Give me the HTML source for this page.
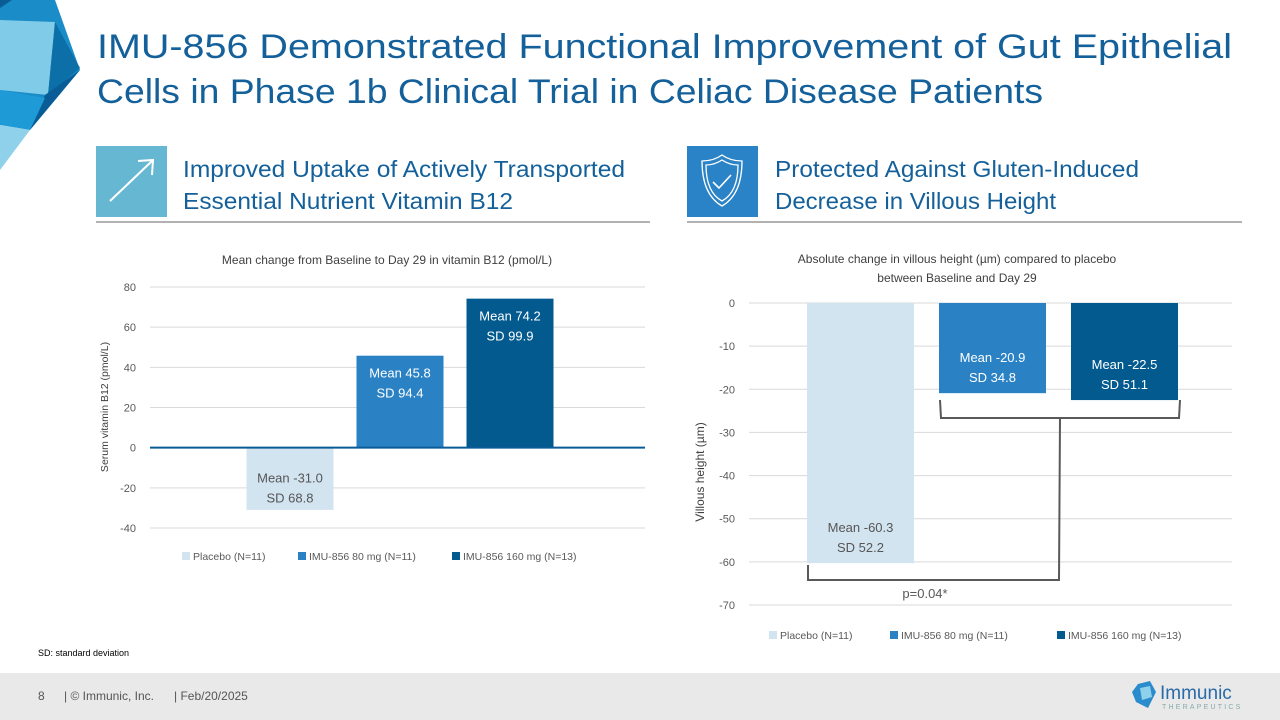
<!DOCTYPE html>
<html><head><meta charset="utf-8"><style>
html,body{margin:0;padding:0;background:#fff;}
svg{display:block;font-family:"Liberation Sans",sans-serif;}
</style></head><body>
<svg id="page" width="1280" height="720" viewBox="0 0 1280 720">
  <g>
    <polygon points="0,0 55,0 80,70 30,130 0,120" fill="#1a8cc8"/>
    <polygon points="0,20 55,22 48,95 0,90" fill="#7fcbe8"/>
    <polygon points="55,22 80,68 48,95" fill="#0d6fa8"/>
    <polygon points="45,95 80,70 30,130" fill="#0a5c96"/>
    <polygon points="0,90 45,98 30,130 0,125" fill="#1e9ad6"/>
    <polygon points="0,125 30,130 0,170" fill="#8fd0ea"/>
    <polygon points="0,0 12,0 0,8" fill="#0a5c96"/>
  </g>
  <text x="97" y="58" font-size="34" fill="#14609a" textLength="1135" lengthAdjust="spacingAndGlyphs">IMU-856 Demonstrated Functional Improvement of Gut Epithelial</text>
  <text x="97" y="103" font-size="34" fill="#14609a" textLength="946" lengthAdjust="spacingAndGlyphs">Cells in Phase 1b Clinical Trial in Celiac Disease Patients</text>

  <rect x="96" y="146" width="71" height="71" fill="#66b8d2"/>
  <g stroke="#fff" stroke-width="2" fill="none">
    <line x1="110" y1="201" x2="152" y2="161"/><polyline points="138,161 153,160 152,175"/>
  </g>
  <text x="183" y="177" font-size="23" fill="#14609a" textLength="442" lengthAdjust="spacingAndGlyphs">Improved Uptake of Actively Transported</text>
  <text x="183" y="209" font-size="23" fill="#14609a" textLength="330" lengthAdjust="spacingAndGlyphs">Essential Nutrient Vitamin B12</text>
  <line x1="96" y1="222" x2="650" y2="222" stroke="#666" stroke-width="1"/>

  <rect x="687" y="146" width="71" height="71" fill="#2a83c6"/>
  <g stroke="#fff" stroke-width="1.3" fill="none">
    <path d="M722,155 C715,160 708,161 702,161 C702,182 708,198 722,206 C736,198 742,182 742,161 C736,161 729,160 722,155 Z"/>
    <path d="M722,160 C716,164 711,165 706,165 C706,182 711,195 722,201 C733,195 738,182 738,165 C733,165 728,164 722,160 Z"/>
    <polyline points="713,182 719,188 731,175" stroke-width="1.6"/>
  </g>
  <text x="775" y="177" font-size="23" fill="#14609a" textLength="364" lengthAdjust="spacingAndGlyphs">Protected Against Gluten-Induced</text>
  <text x="775" y="209" font-size="23" fill="#14609a" textLength="281" lengthAdjust="spacingAndGlyphs">Decrease in Villous Height</text>
  <line x1="687" y1="222" x2="1242" y2="222" stroke="#666" stroke-width="1"/>

  <g id="chartL"></g>
  <g id="chartR"></g>

  <text x="38" y="656" font-size="9" fill="#000">SD: standard deviation</text>

  <rect x="0" y="673" width="1280" height="47" fill="#e8e9e8"/>
  <text x="38" y="700" font-size="12" fill="#555">8</text>
  <text x="64" y="700" font-size="12" fill="#555">|  © Immunic, Inc.</text>
  <text x="174" y="700" font-size="12" fill="#555">| Feb/20/2025</text>
  <g>
    <polygon points="1138,684 1150,681 1156,692 1148,708 1136,702 1132,692" fill="#2a8ccc"/>
    <polygon points="1140,688 1150,686 1152,697 1142,700" fill="#8fd0ea"/>
    <text x="1160" y="699" font-size="19" fill="#2a6aa8">Immunic</text>
    <text x="1162" y="709" font-size="7" fill="#8aa" letter-spacing="2.2">THERAPEUTICS</text>
  </g>
</svg>
<script>
const NS = "http://www.w3.org/2000/svg";
const b12Groups = ["Placebo (N=11)", "IMU-856 80 mg (N=11)", "IMU-856 160 mg (N=13)"];
const b12Means = [-31.0, 45.8, 74.2];
const b12SDs = [68.8, 94.4, 99.9];
const b12Ticks = [80, 60, 40, 20, 0, -20, -40];
const vhGroups = ["Placebo (N=11)", "IMU-856 80 mg (N=11)", "IMU-856 160 mg (N=13)"];
const vhMeans = [-60.3, -20.9, -22.5];
const vhSDs = [52.2, 34.8, 51.1];
const vhTicks = [0, -10, -20, -30, -40, -50, -60, -70];
const colors = ["#d3e4f1", "#2a82c5", "#035a8f"];
const labelColors = ["#555", "#fff", "#fff"];

function mk(parent, tag, attrs, txt){
  const el = document.createElementNS(NS, tag);
  for (const k in attrs) el.setAttribute(k, attrs[k]);
  if (txt !== undefined) el.textContent = txt;
  parent.appendChild(el);
  return el;
}

function drawChart(g, cfg){
  const y = v => cfg.y0 + (cfg.vMax - v) * (cfg.y1 - cfg.y0) / (cfg.vMax - cfg.vMin);
  cfg.ticks.forEach(t => {
    const gl = mk(g, "line", {x1:cfg.x0, x2:cfg.x1, y1:y(t), y2:y(t), stroke:"#d9d9d9", "stroke-width":1});
    
    
    const tl = mk(g, "text", {x:cfg.x0-14, y:y(t)+4, "font-size":11, fill:"#595959", "text-anchor":"end"}, String(t));
    
    
  });
  const n = cfg.means.length;
  const mid = cfg.mid;
  cfg.means.forEach((m, i) => {
    const cx = mid + (i - (n-1)/2) * (cfg.bw + cfg.gap);
    const top = Math.min(y(0), y(m)), h = Math.abs(y(m) - y(0));
    const r = mk(g, "rect", {x:cx-cfg.bw/2, y:top, width:cfg.bw, height:h, fill:colors[i]});
    
    
    let ly = cfg.labelPos(i, m, y);
    const t1 = mk(g, "text", {x:cx, y:ly, "font-size":13, fill:labelColors[i], "text-anchor":"middle"}, "Mean " + m.toFixed(1));
    
    
    const t2 = mk(g, "text", {x:cx, y:ly+20, "font-size":13, fill:labelColors[i], "text-anchor":"middle"}, "SD " + cfg.sds[i].toFixed(1));
    
    
  });
  if (cfg.zeroLine){
    const z = mk(g, "line", {x1:cfg.x0, x2:cfg.x1, y1:y(0), y2:y(0), stroke:"#0a5c96", "stroke-width":2});
    
    
  }
  let lx = cfg.legendX;
  cfg.groups.forEach((name, i) => {
    const sw = mk(g, "rect", {x:lx, y:cfg.legendY-8, width:8, height:8, fill:colors[i]});
    
    
    const lt = mk(g, "text", {x:lx+11, y:cfg.legendY, "font-size":10.5, fill:"#595959"}, name);
    
    
    lx += cfg.legendSteps[i];
  });
  return y;
}

const gL = document.getElementById("chartL");
const tL = mk(gL, "text", {x:387, y:264, "font-size":12, fill:"#404040", "text-anchor":"middle"}, "Mean change from Baseline to Day 29 in vitamin B12 (pmol/L)");


const axL = mk(gL, "text", {x:0, y:0, "font-size":10.5, fill:"#404040", "text-anchor":"middle", transform:"translate(108,407) rotate(-90)"}, "Serum vitamin B12 (pmol/L)");


drawChart(gL, {x0:150, x1:645, mid:400, y0:287, y1:528, vMax:80, vMin:-40, ticks:b12Ticks,
  means:b12Means, sds:b12SDs, groups:b12Groups, bw:87, gap:23, zeroLine:true,
  labelPos:(i,m,y)=> m<0 ? y(0)+35 : y(m)+22,
  legendX:182, legendY:560, legendSteps:[116, 154, 0]});

const gR = document.getElementById("chartR");
const tR1 = mk(gR, "text", {x:957, y:263, "font-size":12, fill:"#404040", "text-anchor":"middle"}, "Absolute change in villous height (µm) compared to placebo");


const tR2 = mk(gR, "text", {x:957, y:282, "font-size":12, fill:"#404040", "text-anchor":"middle"}, "between Baseline and Day 29");


const axR = mk(gR, "text", {x:0, y:0, "font-size":12, fill:"#404040", "text-anchor":"middle", transform:"translate(704,472) rotate(-90)"}, "Villous height (µm)");


const yR = drawChart(gR, {x0:749, x1:1232, mid:992.5, y0:303, y1:605, vMax:0, vMin:-70, ticks:vhTicks,
  means:vhMeans, sds:vhSDs, groups:vhGroups, bw:107, gap:25, zeroLine:false,
  labelPos:(i,m,y)=> y(m)-31,
  legendX:769, legendY:639, legendSteps:[121, 167, 0]});

const br = mk(gR, "path", {d:"M940,400 L941,418 L1179,418 L1180,400 M1060,418 L1059,580 L808,580 L808,565", fill:"none", stroke:"#595959", "stroke-width":2});


const pv = mk(gR, "text", {x:925, y:598, "font-size":13, fill:"#595959", "text-anchor":"middle"}, "p=0.04*");


</script>
</body></html>
